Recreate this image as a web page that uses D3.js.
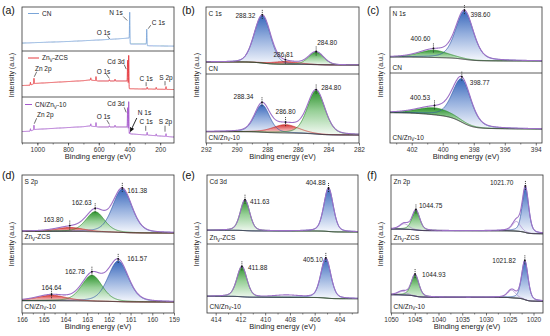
<!DOCTYPE html>
<html><head><meta charset="utf-8">
<script src="https://cdn.jsdelivr.net/npm/d3@7"></script>
<style>body{margin:0;background:#fff}svg{display:block}text{font-family:"Liberation Sans",Arial,sans-serif}</style>
</head><body><svg id="c" width="550" height="336"></svg>
<script>
// ---------------- DATA ----------------
const surveyTicks=[1000,800,600,400,200];
const c1sTicks=[292,290,288,286,284,282];
const n1sTicks=[402,400,398,396,394];
const s2pTicks=[166,165,164,163,162,161,160,159];
const cd3dTicks=[414,412,410,408,406,404];
const zn2pTicks=[1050,1045,1040,1035,1030,1025,1020];

const sampleNames=["CN","Zn_V-ZCS","CN/Zn_V-10"];
const coreLevels=["C 1s","N 1s","S 2p","Cd 3d","Zn 2p"];

// survey: background [BE, intensity] and peaks [BE, height]
const surveyBgCN=[[1100,18],[800,21.6],[600,25],[500,27],[402,29.5],[396,16],[290,16],[283,12],[110,11]];
const surveyPeaksCN=[[531,3],[398.5,67],[287.5,35]];
const surveyBgZCS=[[1100,25],[1050,25.5],[1015,29.5],[700,35.5],[660,37],[600,34.8],[412,34.8],[402,18],[110,16.3]];
const surveyPeaksZCS=[[1045,6],[1022,12],[652,5],[618,9],[531,3],[494,4],[412,45],[405,68],[285,4],[226,4],[162,6]];
const surveyBgCNZn=[[1100,25],[1050,25.5],[1015,29.5],[700,35.5],[660,37],[600,34.8],[412,34.8],[402,20],[290,17.4],[110,13]];
const surveyPeaksCNZn=[[1045,5],[1022,10],[652,5],[618,9],[531,3],[494,4],[412,42],[405,66],[398,4],[285,6],[226,4],[162,6]];

// fitted spectra: baseline [high-BE end, low-BE end]; peaks [center, height, FWHM]
const c1sCN_base=[18,13.5];
const c1sCN_peaks=[[288.32,71,1.25],[286.81,4,2.0],[284.80,19,1.15]];
const c1sZn_base=[16.4,11.6];
const c1sZn_peaks=[[288.34,40,1.15],[286.80,12,2.0],[284.80,63,1.35]];
const n1sCN_base=[24.2,18.2];
const n1sCN_peaks=[[398.60,73,1.35],[400.60,11,2.2]];
const n1sZn_base=[43.3,20];
const n1sZn_peaks=[[398.77,62,1.4],[400.53,10,2.6]];
const s2pZCS_base=[18.4,15.9];
const s2pZCS_peaks=[[161.38,63,1.05],[162.63,29,1.0],[163.80,5.7,1.5]];
const s2pZn_base=[17.8,15.9];
const s2pZn_peaks=[[161.57,59,1.1],[162.78,37.6,1.1],[164.64,8,1.6]];
const cd3dZCS_base=[19.9,17.4];
const cd3dZCS_peaks=[[411.63,44.7,0.9],[404.88,63,0.9]];
const cd3dZn_base=[24.2,20.7];
const cd3dZn_peaks=[[411.88,44,0.95],[405.10,58,0.95],[408.3,3,2.5]];
const zn2pZCS_base=[21.7,14.9];
const zn2pZCS_peaks=[[1044.75,29,1.9],[1021.70,65.7,1.6],[1047.2,8,2.2],[1023.6,14,2.0]];
const zn2pZn_base=[26.5,17];
const zn2pZn_peaks=[[1044.93,31.5,1.9],[1021.82,56.4,1.6],[1047.6,5,2.2],[1024.6,11,2.0]];

// ---------------- LAYOUT / STYLE ----------------
const svg=d3.select("#c");
const defs=svg.append("defs");
const grads={blue:["#2a5cb6","#8aa7da","#f6f8fd"],green:["#1e8a1e","#8dcb8d","#f4faf4"],red:["#d02626","#ec9090","#fdf2f2"]};
Object.entries(grads).forEach(([k,c])=>{
  const g=defs.append("linearGradient").attr("id","grad-"+k).attr("x1",0).attr("y1",0).attr("x2",0).attr("y2",1);
  g.append("stop").attr("offset","0%").attr("stop-color",c[0]);
  g.append("stop").attr("offset","45%").attr("stop-color",c[1]);
  g.append("stop").attr("offset","100%").attr("stop-color",c[2]);
});
defs.append("marker").attr("id","arr").attr("viewBox","0 0 10 10").attr("refX",9).attr("refY",5)
  .attr("markerWidth",5).attr("markerHeight",5).attr("orient","auto")
  .append("path").attr("d","M0,0L10,5L0,10z").attr("fill","#111");
const lineCol={blue:"#2f56a8",green:"#2b8a2b",red:"#c62828",outline:"#a07ac8"};
const envCol="#9c70c6";
const FS=6.5;

const panels={
  a:{x0:22,x1:174,y0:7,y1:143,dom:[1100,110],ticks:surveyTicks,minor:d3.range(1100,110,-100),letter:"(a)",lx:2,ly:13.5,ytx:14},
  b:{x0:206,x1:359,y0:7,y1:143,dom:[292,282],ticks:c1sTicks,minor:d3.range(291,282,-2),letter:"(b)",lx:182,ly:13.5,ytx:199},
  c:{x0:390,x1:542,y0:7,y1:143,dom:[403.4,393.6],ticks:n1sTicks,minor:[403,401,399,397,395],letter:"(c)",lx:367,ly:13.5,ytx:383},
  d:{x0:22,x1:174,y0:175,y1:313,dom:[166,159],ticks:s2pTicks,minor:d3.range(165.5,159,-1),letter:"(d)",lx:2,ly:179,ytx:14},
  e:{x0:207,x1:358,y0:175,y1:313,dom:[414.7,402.5],ticks:cd3dTicks,minor:[413,411,409,407,405,403],letter:"(e)",lx:182,ly:179,ytx:199},
  f:{x0:391,x1:543,y0:175,y1:313,dom:[1050,1018],ticks:zn2pTicks,minor:d3.range(1047.5,1018,-5),letter:"(f)",lx:367,ly:179,ytx:383}
};
Object.values(panels).forEach(p=>{p.x=d3.scaleLinear().domain(p.dom).range([p.x0,p.x1]);});

function richText(g,x,y,str,size,anchor,fill){
  const t=g.append("text").attr("x",x).attr("y",y).attr("font-size",size).attr("text-anchor",anchor||"start").attr("fill",fill||"#222");
  const parts=str.split("_V");
  parts.forEach((p,i)=>{
    if(i>0){t.append("tspan").attr("font-size",size*0.72).attr("dy",size*0.28).text("V");
      t.append("tspan").attr("dy",-size*0.28).text(p);}
    else t.append("tspan").text(p);
  });
  return t;
}
let clipN=0;
function clip(x0,y0,x1,y1){
  const id="cl"+(clipN++);
  defs.append("clipPath").attr("id",id).append("rect").attr("x",x0).attr("y",y0).attr("width",x1-x0).attr("height",y1-y0);
  return "url(#"+id+")";
}
function pv(v,c,w,eta){const d=(v-c)/w;return (1-eta)*Math.exp(-4*Math.LN2*d*d)+eta/(1+4*d*d);}

function drawAxes(p,dividers){
  const ax=svg.append("g").attr("transform",`translate(0,${p.y1})`);
  ax.call(d3.axisBottom(p.x).tickValues(p.ticks).tickSize(2.5).tickPadding(2).tickFormat(d3.format("d")));
  ax.select(".domain").remove();
  ax.selectAll("text").attr("font-size",FS).attr("fill","#333").attr("font-family","Liberation Sans, Arial, sans-serif");
  ax.selectAll("line").attr("stroke","#333").attr("stroke-width",0.7);
  const mx=svg.append("g").attr("transform",`translate(0,${p.y1})`);
  mx.call(d3.axisBottom(p.x).tickValues(p.minor).tickSize(1.5).tickFormat(""));
  mx.select(".domain").remove();
  mx.selectAll("line").attr("stroke","#333").attr("stroke-width",0.6);
  svg.append("text").attr("x",(p.x0+p.x1)/2).attr("y",p.y1+16).attr("text-anchor","middle").attr("font-size",7.5).attr("fill","#222").text("Binding energy (eV)");
  svg.append("text").attr("transform",`translate(${p.ytx},${(p.y0+p.y1)/2}) rotate(-90)`).attr("text-anchor","middle").attr("font-size",7).attr("fill","#222").text("Intensity (a.u.)");
  svg.append("text").attr("x",p.lx).attr("y",p.ly).attr("font-size",10.5).attr("fill","#111").text(p.letter);
  svg.append("rect").attr("x",p.x0).attr("y",p.y0).attr("width",p.x1-p.x0).attr("height",p.y1-p.y0).attr("fill","none").attr("stroke","#333").attr("stroke-width",0.8);
  dividers.forEach(d=>svg.append("line").attr("x1",p.x0).attr("x2",p.x1).attr("y1",d).attr("y2",d).attr("stroke","#333").attr("stroke-width",0.8));
}

// ---------------- SURVEY (a) ----------------
function bgAt(pts,v){
  const s=pts.slice().sort((a,b)=>a[0]-b[0]);
  if(v<=s[0][0])return s[0][1];
  for(let i=1;i<s.length;i++){if(v<=s[i][0]){const t=(v-s[i-1][0])/(s[i][0]-s[i-1][0]);return s[i-1][1]+t*(s[i][1]-s[i-1][1]);}}
  return s[s.length-1][1];
}
function drawSurvey(p,top,bot,bg,peaks,color,legend,annots){
  const y=d3.scaleLinear().domain([0,100]).range([bot,top]);
  const g=svg.append("g").attr("clip-path",clip(p.x0,top,p.x1,bot));
  const xs=d3.range(Math.min(...p.dom),Math.max(...p.dom)+0.01,0.4);
  const val=v=>bgAt(bg,v)+d3.sum(peaks,pk=>pk[1]*Math.exp(-4*Math.LN2*((v-pk[0])/3)**2));
  g.append("path").datum(xs).attr("fill","none").attr("stroke",color).attr("stroke-width",0.9)
   .attr("d",d3.line().x(v=>p.x(v)).y(v=>y(val(v))));
  const lg=svg.append("g");
  lg.append("line").attr("x1",legend[0]).attr("x2",legend[1]).attr("y1",legend[2]).attr("y2",legend[2]).attr("stroke",color).attr("stroke-width",1);
  richText(lg,legend[1]+3,legend[2]+2.3,legend[3],FS);
  annots.forEach(a=>{
    const px=p.x(a.be),py=y(val(a.be));
    svg.append("text").attr("x",px+a.t[0]).attr("y",py+a.t[1]).attr("text-anchor",a.t[2]).attr("font-size",FS).attr("fill","#222").text(a.txt);
    const ln=svg.append("line").attr("x1",px+a.l[0]).attr("y1",py+a.l[1]).attr("x2",px+a.l[2]).attr("y2",py+a.l[3]).attr("stroke","#111").attr("stroke-width",a.arrow?0.9:0.6);
    if(a.arrow)ln.attr("marker-end","url(#arr)");
  });
}
const A=panels.a;
drawSurvey(A,7,51,surveyBgCN,surveyPeaksCN,"#7aa5d8",[28,39,13.5,sampleNames[0]],[
  {txt:"N 1s",be:398.5,t:[-7,3,"end"],l:[-6.5,4.5,-2.5,8.5]},
  {txt:"C 1s",be:287.5,t:[5,-4.5,"start"],l:[4,-4,1.5,-0.5]},
  {txt:"O 1s",be:531,t:[1,-3.5,"end"],l:[-2,-2.5,0,0.5]}]);
drawSurvey(A,51,97,surveyBgZCS,surveyPeaksZCS,"#e53a3f",[28,39,58,sampleNames[1]],[
  {txt:"Zn 2p",be:1022,t:[1,-7,"start"],l:[2.7,-6.5,0.3,-1.5]},
  {txt:"O 1s",be:531,t:[1,-6,"end"],l:[-3,-5.5,0,-1.2]},
  {txt:"Cd 3d",be:405,t:[-4,8.5,"end"],l:[-4.5,9.5,-2.5,14]},
  {txt:"C 1s",be:285,t:[-1,-6.5,"middle"],l:[-1,-5,-1,-1]},
  {txt:"S 2p",be:162,t:[0,-7,"middle"],l:[-1,-5.5,-1,-1.2]}]);
drawSurvey(A,97,143,surveyBgCNZn,surveyPeaksCNZn,"#a558cc",[25,32,104.5,sampleNames[2]],[
  {txt:"Zn 2p",be:1022,t:[3,-8,"start"],l:[2.7,-7,0.3,-1.5]},
  {txt:"O 1s",be:531,t:[1,-6.5,"end"],l:[-2.5,-5.5,0,-1.2]},
  {txt:"Cd 3d",be:405,t:[-4,5,"end"],l:[-4.5,6,-2.5,11]},
  {txt:"N 1s",be:398,t:[8,-17.5,"start"],l:[7,-14,0.6,-0.5],arrow:true},
  {txt:"C 1s",be:285,t:[-1,-8,"middle"],l:[-1.4,-6.5,-1.4,-1.5]},
  {txt:"S 2p",be:162,t:[-0.5,-9.5,"middle"],l:[-1,-8,-1,-2]}]);
drawAxes(A,[51,97]);

// ---------------- FITTED PANELS ----------------
function drawFit(p,top,bot,base,peaks,st){
  const y=d3.scaleLinear().domain([0,100]).range([bot,top]);
  const g=svg.append("g").attr("clip-path",clip(p.x0,top,p.x1,bot));
  const lo=Math.min(...p.dom),hi=Math.max(...p.dom),n=600;
  const xs=d3.range(n+1).map(i=>lo+(hi-lo)*i/n);
  const comps=peaks.map(pk=>xs.map(v=>pk[1]*pv(v,pk[0],pk[2],st.eta)));
  const sum=xs.map((v,i)=>d3.sum(comps,c=>c[i]));
  const cum=[0];for(let i=1;i<=n;i++)cum[i]=cum[i-1]+(sum[i]+sum[i-1])/2;
  const bg=xs.map((v,i)=>base[1]+(base[0]-base[1])*cum[i]/cum[n]);
  const idx=d3.range(n+1);
  peaks.forEach((pk,k)=>{
    const col=st.colors[k];
    if(grads[col]){
      g.append("path").datum(idx).attr("fill",`url(#grad-${col})`).attr("fill-opacity",0.92)
       .attr("d",d3.area().x(i=>p.x(xs[i])).y0(i=>y(bg[i])).y1(i=>y(bg[i]+comps[k][i])));
    }
  });
  peaks.forEach((pk,k)=>{
    const col=st.colors[k];
    if(col==="none")return;
    g.append("path").datum(idx).attr("fill","none").attr("stroke",lineCol[col]).attr("stroke-width",0.7)
     .attr("d",d3.line().x(i=>p.x(xs[i])).y(i=>y(bg[i]+comps[k][i])));
  });
  g.append("path").datum(idx).attr("fill","none").attr("stroke","#222").attr("stroke-width",0.9)
   .attr("d",d3.line().x(i=>p.x(xs[i])).y(i=>y(bg[i])));
  g.append("path").datum(idx).attr("fill","none").attr("stroke",envCol).attr("stroke-width",1.1)
   .attr("d",d3.line().x(i=>p.x(xs[i])).y(i=>y(bg[i]+sum[i])));
  st.labels.forEach((lb,k)=>{
    const c=peaks[k][0];
    const i=d3.minIndex(xs,v=>Math.abs(v-c));
    const px=p.x(c),py=y(bg[i]+sum[i]);
    svg.append("line").attr("x1",px).attr("x2",px).attr("y1",py-5).attr("y2",py+4).attr("stroke","#222").attr("stroke-width",0.9).attr("stroke-dasharray","1,1");
    svg.append("circle").attr("cx",px).attr("cy",py).attr("r",0.9).attr("fill","#111");
    svg.append("text").attr("x",px+lb[0]).attr("y",py+lb[1]).attr("text-anchor",lb[2]).attr("font-size",FS).attr("fill","#222").text(d3.format(".2f")(c));
  });
  richText(svg,p.x0+2.5,st.nameY,st.name,FS);
}
const B=panels.b,C=panels.c,D=panels.d,E=panels.e,F=panels.f;
drawFit(B,7,74,c1sCN_base,c1sCN_peaks,{eta:0.15,colors:["blue","red","green"],labels:[[-7,3.5,"end"],[-2,-3,"middle"],[1,-6,"start"]],name:sampleNames[0],nameY:70.5});
drawFit(B,74,143,c1sZn_base,c1sZn_peaks,{eta:0.3,colors:["blue","red","green"],labels:[[-8.5,-3,"end"],[0,-8,"middle"],[5,0,"start"]],name:sampleNames[2],nameY:139.5});
drawFit(C,7,73,n1sCN_base,n1sCN_peaks,{eta:0.35,colors:["blue","green"],labels:[[6,6.5,"start"],[-3,-7.5,"end"]],name:sampleNames[0],nameY:69.5});
drawFit(C,73,143,n1sZn_base,n1sZn_peaks,{eta:0.35,colors:["blue","green"],labels:[[8,8.5,"start"],[-4.5,-5.5,"end"]],name:sampleNames[2],nameY:139.5});
drawFit(D,175,244,s2pZCS_base,s2pZCS_peaks,{eta:0.3,colors:["blue","green","red"],labels:[[5,5.5,"start"],[-3.5,-3.5,"end"],[-6.5,-3.5,"end"]],name:sampleNames[1],nameY:239});
drawFit(D,244,313,s2pZn_base,s2pZn_peaks,{eta:0.3,colors:["blue","green","red"],labels:[[9,2.5,"start"],[-7,2.5,"end"],[0,-4,"middle"]],name:sampleNames[2],nameY:308.5});
drawFit(E,175,244,cd3dZCS_base,cd3dZCS_peaks,{eta:0.3,colors:["green","blue"],labels:[[5,4,"start"],[-3,-3,"end"]],name:sampleNames[1],nameY:240});
drawFit(E,244,313,cd3dZn_base,cd3dZn_peaks,{eta:0.3,colors:["green","blue","none"],labels:[[6,4,"start"],[-3,4.5,"end"]],name:sampleNames[2],nameY:308.5});
drawFit(F,175,244,zn2pZCS_base,zn2pZCS_peaks,{eta:0.4,colors:["green","blue","outline","outline"],labels:[[3,-1,"start"],[-12,-0.5,"end"]],name:sampleNames[1],nameY:240});
drawFit(F,244,313,zn2pZn_base,zn2pZn_peaks,{eta:0.4,colors:["green","blue","outline","outline"],labels:[[7,2.5,"start"],[-9,2.5,"end"]],name:sampleNames[2],nameY:308.5});

[["b",0,16],["c",1,16],["d",2,184],["e",3,184],["f",4,184]].forEach(([k,i,yy])=>{
  svg.append("text").attr("x",panels[k].x0+2.5).attr("y",yy).attr("font-size",FS).attr("fill","#222").text(coreLevels[i]);
});
drawAxes(B,[74]);drawAxes(C,[73]);drawAxes(D,[244]);drawAxes(E,[244]);drawAxes(F,[244]);
</script></body></html>
